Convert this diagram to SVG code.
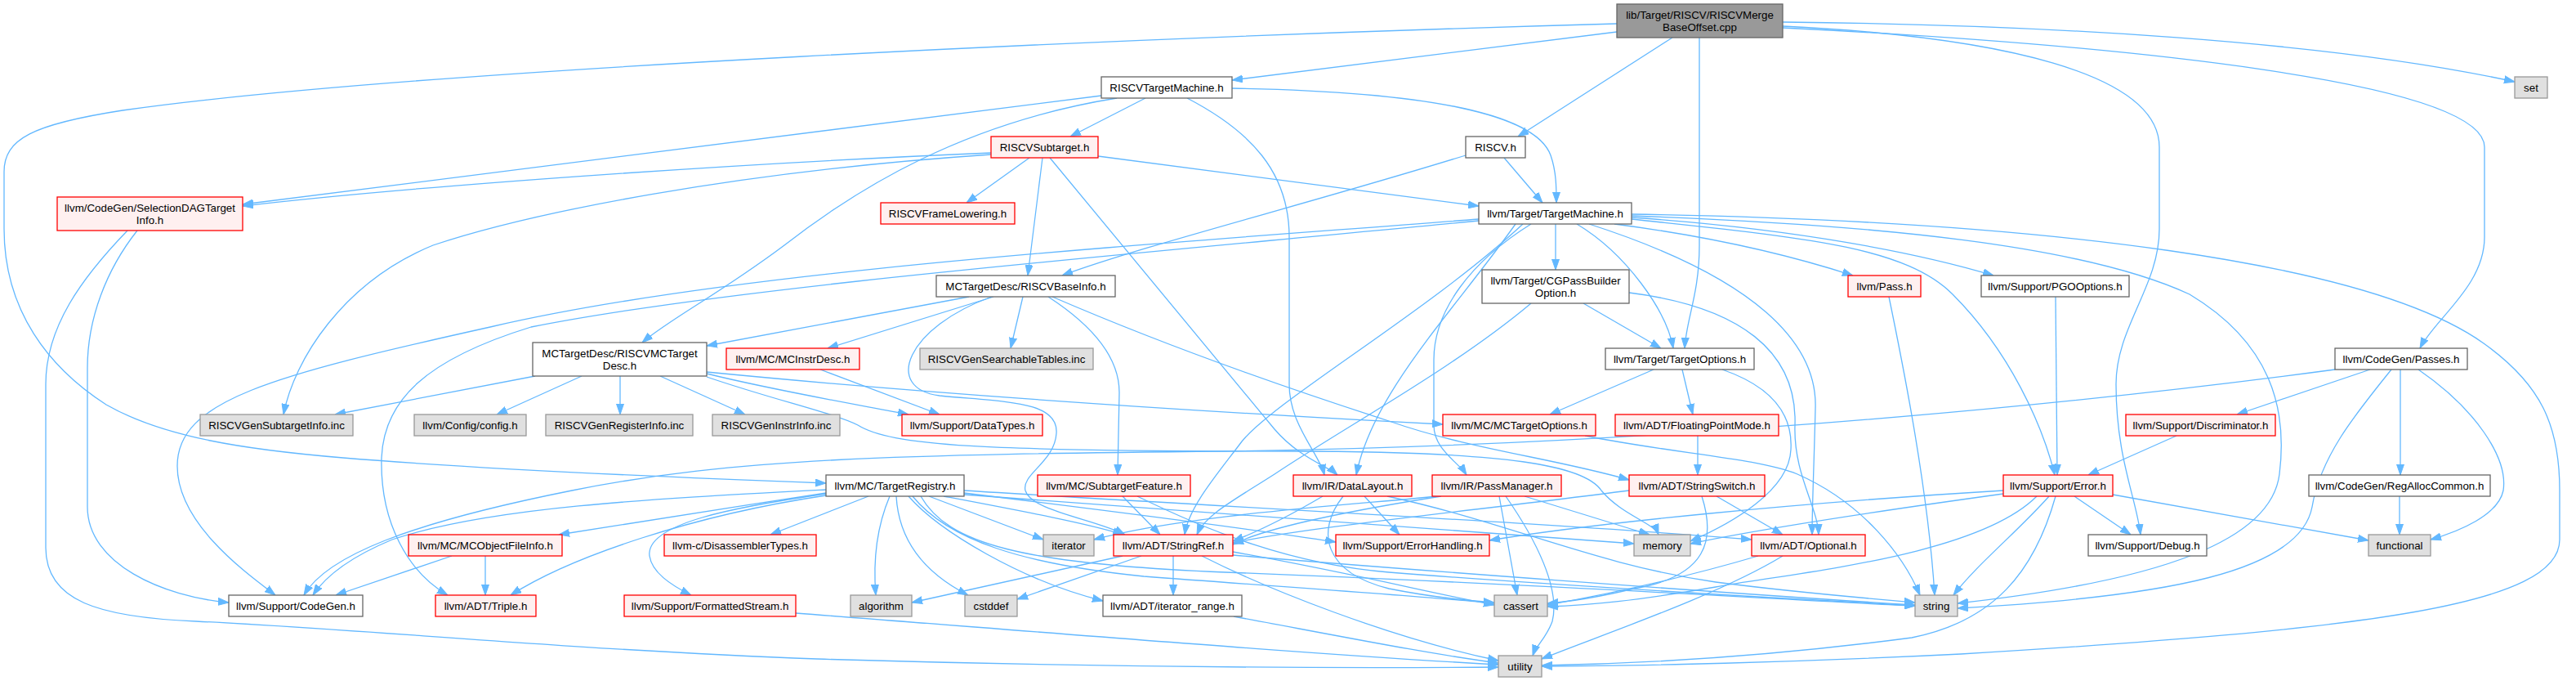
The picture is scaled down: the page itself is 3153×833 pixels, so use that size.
<svg xmlns="http://www.w3.org/2000/svg" width="3153" height="833" viewBox="0 0 3153 833">
<defs>
<style>
rect{stroke-width:1.3}
.nw rect{fill:#ffffff;stroke:#666666}
.nr rect{fill:#fff0f0;stroke:#ff0000}
.ng rect{fill:#e0e0e0;stroke:#999999}
.nroot rect{fill:#999999;stroke:#666666}
text{font-family:"Liberation Sans",Arial,Helvetica,sans-serif;font-size:13.33px;text-anchor:middle;fill:#000000}
#edges path{fill:none;stroke:#63b8ff;stroke-width:1.3;marker-end:url(#arr)}
</style>
<marker id="arr" viewBox="0 0 13 10" refX="13" refY="5" markerWidth="13" markerHeight="10" markerUnits="userSpaceOnUse" orient="auto">
<path d="M0,0.5 L13,5 L0,9.5 z" fill="#63b8ff" stroke="#63b8ff" stroke-width="1"/>
</marker>
</defs>
<rect x="0" y="0" width="3153" height="833" fill="#ffffff"/>
<g id="edges">
<path d="M1979,29 C1400,45 500,85 150,135 C40,152 5,170 5,210 L5,280 C5,380 60,450 130,495 C200,535 300,550 420,560 C600,575 850,585 1011,591"/>
<path d="M1979,39 C1800,60 1650,80 1508,98"/>
<path d="M2047,46 L1858,167"/>
<path d="M2080,46 L2080,300 C2080,360 2064,390 2062,426"/>
<path d="M2182,27 C2500,30 2850,50 3078,100"/>
<path d="M2182,32 C2450,45 2643,90 2643,180 L2643,280 C2643,350 2590,400 2590,470 C2590,560 2615,610 2620,654"/>
<path d="M2182,34 C2600,55 3041,100 3041,180 L3041,290 C3041,350 2980,390 2962,426"/>
<path d="M1348,117 L297,250"/>
<path d="M1367,120 C1180,150 1050,230 960,300 C880,360 820,390 786,419"/>
<path d="M1402,120 L1310,167"/>
<path d="M1453,120 C1530,160 1578,210 1578,290 L1578,470 C1578,520 1615,555 1621,581"/>
<path d="M1508,108 C1750,112 1880,140 1898,190 C1905,210 1905,230 1905,248"/>
<path d="M1213,187 C900,200 500,228 297,252"/>
<path d="M1213,189 C900,210 650,260 530,300 C420,345 360,440 347,507"/>
<path d="M1260,193 L1183,248"/>
<path d="M1276,193 L1258,337"/>
<path d="M1285,193 L1560,525 C1590,560 1625,570 1637,581"/>
<path d="M1344,191 L1810,252"/>
<path d="M1794,190 C1600,250 1400,300 1300,337"/>
<path d="M1841,193 L1888,248"/>
<path d="M168,282 C130,330 107,390 107,450 L107,620 C107,690 200,730 280,737"/>
<path d="M156,282 C100,340 56,400 56,470 L56,670 C56,735 120,755 240,760 C450,770 700,795 1000,806 C1400,818 1700,817 1834,816"/>
<path d="M1904,274 L1904,330"/>
<path d="M1930,274 C1990,310 2040,380 2048,426"/>
<path d="M1976,274 C2100,290 2200,315 2268,337"/>
<path d="M1997,266 C2200,280 2350,310 2440,337"/>
<path d="M1997,268 C2200,290 2330,300 2390,360 C2460,430 2500,520 2515,581"/>
<path d="M1997,264 C2300,275 2550,300 2680,360 C2780,420 2800,500 2790,580 C2780,660 2650,710 2396,738"/>
<path d="M1997,262 C2500,270 2900,320 3040,420 C3110,470 3133,520 3133,600 L3133,660 C3133,740 2900,770 2400,800 C2200,810 2000,815 1887,815"/>
<path d="M1945,274 C2150,340 2225,420 2222,500 C2220,580 2218,620 2218,654"/>
<path d="M1810,268 C1400,300 900,330 600,400 C330,460 217,490 217,570 C217,640 300,700 337,728"/>
<path d="M1810,270 C1400,310 900,350 650,400 C520,440 470,490 467,560 C465,640 500,700 548,728"/>
<path d="M1864,274 C1750,380 1560,490 1520,540 C1490,580 1455,620 1450,654"/>
<path d="M1855,274 C1780,380 1680,480 1660,581"/>
<path d="M1874,274 C1800,320 1755,380 1755,440 L1755,520 C1755,550 1785,565 1795,581"/>
<path d="M1186,363 L865,423"/>
<path d="M1216,363 L1013,426"/>
<path d="M1214,363 C1110,400 1080,475 1150,484 C1230,492 1296,490 1293,530 C1291,565 1250,580 1255,600 C1262,625 1340,635 1377,654"/>
<path d="M1252,363 L1237,426"/>
<path d="M1283,363 C1340,400 1370,440 1370,480 L1368,581"/>
<path d="M1288,363 C1420,420 1560,470 1700,515 C1800,550 1900,560 1994,587"/>
<path d="M655,460 L410,507"/>
<path d="M712,460 L608,507"/>
<path d="M759,460 L759,507"/>
<path d="M808,460 L912,507"/>
<path d="M865,457 C950,478 1050,495 1112,507"/>
<path d="M865,455 C1100,478 1400,500 1766,519"/>
<path d="M865,461 C950,490 1020,505 1050,520 C1090,545 1200,552 1580,552 C1850,552 1940,570 1960,600 C1985,630 2025,640 2030,654"/>
<path d="M1004,452 L1150,507"/>
<path d="M1938,371 L2033,426"/>
<path d="M1874,371 C1780,450 1650,520 1560,580 C1510,612 1475,630 1465,654"/>
<path d="M1994,358 C2130,375 2200,430 2197,520 C2195,580 2225,620 2226,654"/>
<path d="M2024,452 L1897,507"/>
<path d="M2059,452 L2072,507"/>
<path d="M2108,452 C2160,470 2195,500 2192,550 C2190,600 2120,640 2069,662"/>
<path d="M1940,533 C2050,555 2150,560 2200,580 C2280,615 2330,680 2350,728"/>
<path d="M2078,533 L2078,581"/>
<path d="M2664,533 L2556,581"/>
<path d="M2901,452 L2738,507"/>
<path d="M2858,452 C2500,500 2000,545 1500,552 C1100,556 900,560 700,600 C500,640 400,680 372,728"/>
<path d="M2927,452 C2880,510 2840,560 2830,620 C2815,700 2650,730 2396,744"/>
<path d="M2938,452 L2938,581"/>
<path d="M2960,452 C3030,500 3070,560 3064,600 C3058,630 3010,650 2975,660"/>
<path d="M2937,607 L2937,654"/>
<path d="M2539,607 L2608,654"/>
<path d="M2586,605 L2899,661"/>
<path d="M2508,607 C2470,650 2420,690 2391,728"/>
<path d="M2516,607 C2490,700 2440,760 2340,780 C2150,805 2000,812 1887,814"/>
<path d="M2452,600 C2200,615 1950,640 1823,661"/>
<path d="M2452,604 C2300,625 2150,648 2069,665"/>
<path d="M2493,607 C2420,680 2200,700 2100,718 C2000,735 1950,740 1894,742"/>
<path d="M1011,599 C800,610 600,620 480,660 C420,685 395,710 383,728"/>
<path d="M1011,603 C900,620 780,638 684,654"/>
<path d="M1011,606 C850,630 700,680 625,728"/>
<path d="M1011,604 C900,620 790,640 795,680 C798,700 820,715 846,728"/>
<path d="M1063,607 L943,654"/>
<path d="M1089,607 C1075,640 1068,680 1072,728"/>
<path d="M1097,607 C1100,660 1130,700 1185,728"/>
<path d="M1112,607 C1150,650 1250,710 1350,735"/>
<path d="M1137,607 L1277,660"/>
<path d="M1155,607 C1250,625 1330,640 1375,654"/>
<path d="M1180,600 C1500,620 1900,640 2144,660"/>
<path d="M1180,603 C1400,630 1550,650 1635,663"/>
<path d="M1180,605 C1500,630 1800,648 2000,665"/>
<path d="M1117,607 C1160,660 1250,690 1400,705 C1600,720 1750,730 1829,738"/>
<path d="M1127,607 C1160,665 1250,690 1500,700 C1900,715 2200,735 2344,741"/>
<path d="M1374,680 L1116,737"/>
<path d="M1397,680 L1245,733"/>
<path d="M1436,680 L1436,728"/>
<path d="M1509,675 C1650,700 1750,725 1829,740"/>
<path d="M1509,679 C1700,695 2100,725 2344,740"/>
<path d="M1471,680 C1550,720 1700,780 1834,808"/>
<path d="M1510,754 C1650,780 1750,800 1834,811"/>
<path d="M974,750 C1300,775 1600,800 1834,813"/>
<path d="M553,680 L411,728"/>
<path d="M594,680 L594,728"/>
<path d="M1374,607 L1420,654"/>
<path d="M1392,607 C1480,650 1580,690 1700,700 C1950,720 2250,735 2344,741"/>
<path d="M1619,607 C1580,630 1545,648 1509,662"/>
<path d="M1644,607 C1610,650 1620,700 1700,720 C1760,732 1800,735 1829,737"/>
<path d="M1670,607 L1713,654"/>
<path d="M1698,607 C1850,640 1950,690 2100,712 C2200,725 2300,733 2344,737"/>
<path d="M1764,607 C1650,625 1550,645 1509,666"/>
<path d="M1760,607 C1650,618 1450,630 1339,660"/>
<path d="M1835,607 L1857,728"/>
<path d="M1843,607 C1880,660 1910,720 1900,760 C1893,780 1880,790 1876,802"/>
<path d="M1866,607 L2019,654"/>
<path d="M1994,600 C1800,625 1600,645 1509,664"/>
<path d="M2083,607 C2100,660 2090,705 2000,720 C1950,732 1920,736 1894,738"/>
<path d="M2101,607 L2182,654"/>
<path d="M2152,680 C2050,710 1950,730 1894,740"/>
<path d="M2182,680 C2100,730 1950,780 1887,806"/>
<path d="M2312,363 C2330,450 2360,600 2368,728"/>
<path d="M2516,363 L2518,581"/>
</g>
<g id="root" class="nroot"><rect x="1979" y="5" width="203" height="41"/><text x="2080.5" y="22.5">lib/Target/RISCV/RISCVMerge</text><text x="2080.5" y="37.5">BaseOffset.cpp</text></g>
<g id="RISCVTargetMachine" class="nw"><rect x="1348" y="94" width="160" height="26"/><text x="1428" y="111.5">RISCVTargetMachine.h</text></g>
<g id="set" class="ng"><rect x="3078" y="94" width="40" height="26"/><text x="3098" y="111.5">set</text></g>
<g id="RISCVSubtarget" class="nr"><rect x="1213" y="167" width="131" height="26"/><text x="1278.5" y="184.5">RISCVSubtarget.h</text></g>
<g id="RISCV" class="nw"><rect x="1794" y="167" width="73" height="26"/><text x="1830.5" y="184.5">RISCV.h</text></g>
<g id="SelectionDAGTargetInfo" class="nr"><rect x="70" y="241" width="227" height="41"/><text x="183.5" y="258.5">llvm/CodeGen/SelectionDAGTarget</text><text x="183.5" y="273.5">Info.h</text></g>
<g id="RISCVFrameLowering" class="nr"><rect x="1078" y="248" width="164" height="26"/><text x="1160" y="265.5">RISCVFrameLowering.h</text></g>
<g id="TargetMachine" class="nw"><rect x="1810" y="248" width="187" height="26"/><text x="1903.5" y="265.5">llvm/Target/TargetMachine.h</text></g>
<g id="RISCVBaseInfo" class="nw"><rect x="1146" y="337" width="219" height="26"/><text x="1255.5" y="354.5">MCTargetDesc/RISCVBaseInfo.h</text></g>
<g id="CGPassBuilderOption" class="nw"><rect x="1814" y="330" width="180" height="41"/><text x="1904" y="347.5">llvm/Target/CGPassBuilder</text><text x="1904" y="362.5">Option.h</text></g>
<g id="Pass" class="nr"><rect x="2262" y="337" width="89" height="26"/><text x="2306.5" y="354.5">llvm/Pass.h</text></g>
<g id="PGOOptions" class="nw"><rect x="2425" y="337" width="181" height="26"/><text x="2515.5" y="354.5">llvm/Support/PGOOptions.h</text></g>
<g id="RISCVMCTargetDesc" class="nw"><rect x="652" y="419" width="213" height="41"/><text x="758.5" y="436.5">MCTargetDesc/RISCVMCTarget</text><text x="758.5" y="451.5">Desc.h</text></g>
<g id="MCInstrDesc" class="nr"><rect x="889" y="426" width="163" height="26"/><text x="970.5" y="443.5">llvm/MC/MCInstrDesc.h</text></g>
<g id="RISCVGenSearchableTables" class="ng"><rect x="1126" y="426" width="212" height="26"/><text x="1232" y="443.5">RISCVGenSearchableTables.inc</text></g>
<g id="TargetOptions" class="nw"><rect x="1965" y="426" width="182" height="26"/><text x="2056" y="443.5">llvm/Target/TargetOptions.h</text></g>
<g id="Passes" class="nw"><rect x="2858" y="426" width="162" height="26"/><text x="2939" y="443.5">llvm/CodeGen/Passes.h</text></g>
<g id="RISCVGenSubtargetInfo" class="ng"><rect x="245" y="507" width="187" height="26"/><text x="338.5" y="524.5">RISCVGenSubtargetInfo.inc</text></g>
<g id="config" class="ng"><rect x="507" y="507" width="137" height="26"/><text x="575.5" y="524.5">llvm/Config/config.h</text></g>
<g id="RISCVGenRegisterInfo" class="ng"><rect x="668" y="507" width="180" height="26"/><text x="758" y="524.5">RISCVGenRegisterInfo.inc</text></g>
<g id="RISCVGenInstrInfo" class="ng"><rect x="872" y="507" width="156" height="26"/><text x="950" y="524.5">RISCVGenInstrInfo.inc</text></g>
<g id="DataTypes" class="nr"><rect x="1104" y="507" width="172" height="26"/><text x="1190" y="524.5">llvm/Support/DataTypes.h</text></g>
<g id="MCTargetOptions" class="nr"><rect x="1766" y="507" width="187" height="26"/><text x="1859.5" y="524.5">llvm/MC/MCTargetOptions.h</text></g>
<g id="FloatingPointMode" class="nr"><rect x="1977" y="507" width="200" height="26"/><text x="2077" y="524.5">llvm/ADT/FloatingPointMode.h</text></g>
<g id="Discriminator" class="nr"><rect x="2602" y="507" width="183" height="26"/><text x="2693.5" y="524.5">llvm/Support/Discriminator.h</text></g>
<g id="TargetRegistry" class="nw"><rect x="1011" y="581" width="169" height="26"/><text x="1095.5" y="598.5">llvm/MC/TargetRegistry.h</text></g>
<g id="SubtargetFeature" class="nr"><rect x="1270" y="581" width="187" height="26"/><text x="1363.5" y="598.5">llvm/MC/SubtargetFeature.h</text></g>
<g id="DataLayout" class="nr"><rect x="1583" y="581" width="145" height="26"/><text x="1655.5" y="598.5">llvm/IR/DataLayout.h</text></g>
<g id="PassManager" class="nr"><rect x="1753" y="581" width="158" height="26"/><text x="1832" y="598.5">llvm/IR/PassManager.h</text></g>
<g id="StringSwitch" class="nr"><rect x="1994" y="581" width="166" height="26"/><text x="2077" y="598.5">llvm/ADT/StringSwitch.h</text></g>
<g id="Error" class="nr"><rect x="2452" y="581" width="134" height="26"/><text x="2519" y="598.5">llvm/Support/Error.h</text></g>
<g id="RegAllocCommon" class="nw"><rect x="2826" y="581" width="222" height="26"/><text x="2937" y="598.5">llvm/CodeGen/RegAllocCommon.h</text></g>
<g id="MCObjectFileInfo" class="nr"><rect x="500" y="654" width="188" height="26"/><text x="594" y="671.5">llvm/MC/MCObjectFileInfo.h</text></g>
<g id="DisassemblerTypes" class="nr"><rect x="813" y="654" width="186" height="26"/><text x="906" y="671.5">llvm-c/DisassemblerTypes.h</text></g>
<g id="iterator" class="ng"><rect x="1277" y="654" width="62" height="26"/><text x="1308" y="671.5">iterator</text></g>
<g id="StringRef" class="nr"><rect x="1363" y="654" width="146" height="26"/><text x="1436" y="671.5">llvm/ADT/StringRef.h</text></g>
<g id="ErrorHandling" class="nr"><rect x="1635" y="654" width="188" height="26"/><text x="1729" y="671.5">llvm/Support/ErrorHandling.h</text></g>
<g id="memory" class="ng"><rect x="2000" y="654" width="69" height="26"/><text x="2034.5" y="671.5">memory</text></g>
<g id="Optional" class="nr"><rect x="2144" y="654" width="139" height="26"/><text x="2213.5" y="671.5">llvm/ADT/Optional.h</text></g>
<g id="Debug" class="nw"><rect x="2556" y="654" width="145" height="26"/><text x="2628.5" y="671.5">llvm/Support/Debug.h</text></g>
<g id="functional" class="ng"><rect x="2899" y="654" width="76" height="26"/><text x="2937" y="671.5">functional</text></g>
<g id="CodeGen" class="nw"><rect x="280" y="728" width="164" height="26"/><text x="362" y="745.5">llvm/Support/CodeGen.h</text></g>
<g id="Triple" class="nr"><rect x="533" y="728" width="123" height="26"/><text x="594.5" y="745.5">llvm/ADT/Triple.h</text></g>
<g id="FormattedStream" class="nr"><rect x="764" y="728" width="210" height="26"/><text x="869" y="745.5">llvm/Support/FormattedStream.h</text></g>
<g id="algorithm" class="ng"><rect x="1041" y="728" width="75" height="26"/><text x="1078.5" y="745.5">algorithm</text></g>
<g id="cstddef" class="ng"><rect x="1181" y="728" width="64" height="26"/><text x="1213" y="745.5">cstddef</text></g>
<g id="iterator_range" class="nw"><rect x="1350" y="728" width="170" height="26"/><text x="1435" y="745.5">llvm/ADT/iterator_range.h</text></g>
<g id="cassert" class="ng"><rect x="1829" y="728" width="65" height="26"/><text x="1861.5" y="745.5">cassert</text></g>
<g id="string" class="ng"><rect x="2344" y="728" width="52" height="26"/><text x="2370" y="745.5">string</text></g>
<g id="utility" class="ng"><rect x="1834" y="802" width="53" height="26"/><text x="1860.5" y="819.5">utility</text></g>
</svg>
